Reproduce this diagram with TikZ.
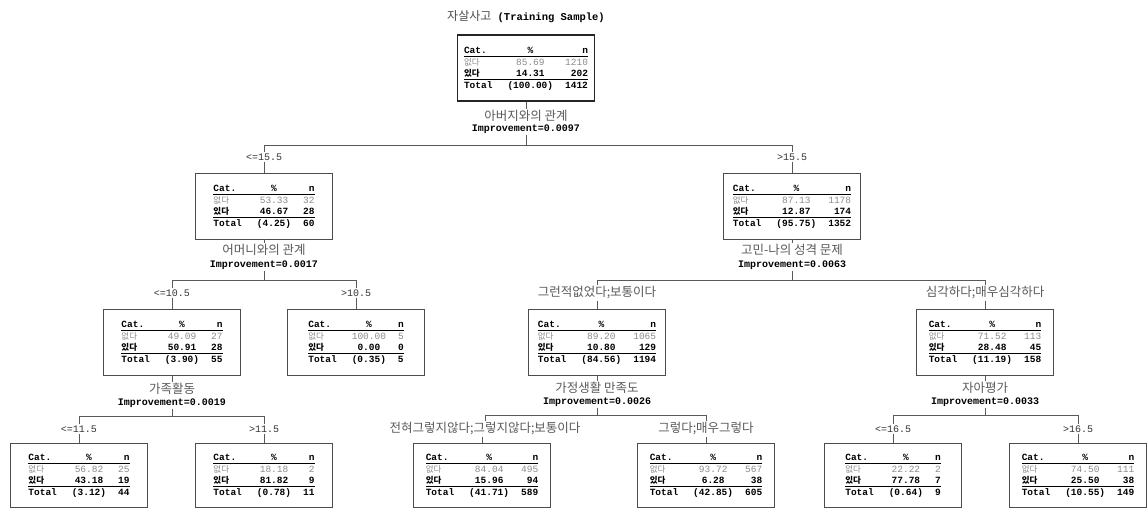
\documentclass[tikz,border=0pt]{standalone}
\usepackage{fontspec}
\setmainfont{Liberation Mono}
\newfontfamily\kor{Noto Sans CJK KR}
\usepackage{tikz}
\usetikzlibrary{calc}

\begin{document}
\begin{tikzpicture}[x=1pt,y=-1pt]
	\tikzstyle{catbox}=[draw=black!70, line width=0.8pt, minimum width=137pt, minimum height=66pt, inner sep=0pt, fill=white, font=\fontsize{9.5}{10}\selectfont]
	\tikzstyle{splitname}=[inner sep=1pt, font=\kor\fontsize{12.5}{14}\selectfont, text=black!65]
	\tikzstyle{impr}=[inner sep=1pt, font=\bfseries\fontsize{10}{11}\selectfont]
	\tikzstyle{cond}=[inner sep=1pt, font=\fontsize{10}{11}\selectfont, text=black!80]
	\tikzstyle{edge}=[draw=black!65, line width=0.7pt]

	\newcommand{\kcell}[1]{{\kor\fontsize{8.5}{10}\selectfont #1}}
	\newcommand{\rowgap}{\rule[-2.6pt]{0pt}{11pt}}
	\newcommand{\cattab}[6]{%
		\begin{tabular}{@{}l@{\hspace{15pt}}c@{\hspace{12pt}}r@{}}
			\rowgap\textbf{Cat.} & \textbf{\%} & \textbf{n}\\\hline
			\rowgap\textcolor{black!45}{\kcell{없다}} & \textcolor{black!45}{#1} & \textcolor{black!45}{#2}\\
			\rowgap\textbf{\kcell{있다}} & \textbf{#3} & \textbf{#4}\\\hline
			\rowgap\textbf{Total} & \textbf{(#5)} & \textbf{#6}
		\end{tabular}}

	\useasboundingbox (0,0) rectangle (1147,509);

	% root
	\node (title) [inner sep=1pt, font=\fontsize{10.5}{12}\selectfont] at (526,17) {{\kor\fontsize{12}{14}\selectfont\color{black!70} 자살사고} \textbf{(Training Sample)}};
	\node (root) [catbox, line width=1.6pt, draw=black!85] at (526,68) {\cattab{85.69}{1210}{14.31}{202}{100.00}{1412}};
	\node (sp0) [splitname] at (526,116) {아버지와의 관계};
	\node (imp0) [impr] at (526,129) {Improvement=0.0097};
	\coordinate (bar0) at (526,145);

	% first level
	\node (c1) [cond] at (264,157) {<=15.5};
	\node (c2) [cond] at (792,157) {>15.5};
	\node (n1) [catbox] at (264,206) {\cattab{53.33}{32}{46.67}{28}{4.25}{60}};
	\node (n2) [catbox] at (792,206) {\cattab{87.13}{1178}{12.87}{174}{95.75}{1352}};
	\node (sp1) [splitname] at (264,250) {어머니와의 관계};
	\node (imp1) [impr] at (264,265) {Improvement=0.0017};
	\node (sp2) [splitname] at (792,250) {고민-나의 성격 문제};
	\node (imp2) [impr] at (792,265) {Improvement=0.0063};
	\coordinate (bar1) at (264,280);
	\coordinate (bar2) at (792,280);

	% second level
	\node (c11) [cond] at (172,293) {<=10.5};
	\node (c12) [cond] at (356,293) {>10.5};
	\node (c21) [splitname] at (597,293) {그런적없었다;보통이다};
	\node (c22) [splitname] at (985,293) {심각하다;매우심각하다};
	\node (n11) [catbox] at (172,342) {\cattab{49.09}{27}{50.91}{28}{3.90}{55}};
	\node (n12) [catbox] at (356,342) {\cattab{100.00}{5}{0.00}{0}{0.35}{5}};
	\node (n21) [catbox] at (597,342) {\cattab{89.20}{1065}{10.80}{129}{84.56}{1194}};
	\node (n22) [catbox] at (985,342) {\cattab{71.52}{113}{28.48}{45}{11.19}{158}};
	\node (sp11) [splitname] at (172,389) {가족활동};
	\node (imp11) [impr] at (172,403) {Improvement=0.0019};
	\node (sp21) [splitname] at (597,388) {가정생활 만족도};
	\node (imp21) [impr] at (597,402) {Improvement=0.0026};
	\node (sp22) [splitname] at (985,388) {자아평가};
	\node (imp22) [impr] at (985,402) {Improvement=0.0033};
	\coordinate (bar11) at (172,416);
	\coordinate (bar21) at (597,415);
	\coordinate (bar22) at (985,415);

	% leaves
	\node (c111) [cond] at (79,429) {<=11.5};
	\node (c112) [cond] at (264,429) {>11.5};
	\node (c211) [splitname] at (485,429) {전혀그렇지않다;그렇지않다;보통이다};
	\node (c212) [splitname] at (706,429) {그렇다;매우그렇다};
	\node (c221) [cond] at (893,429) {<=16.5};
	\node (c222) [cond] at (1078,429) {>16.5};
	\node (n111) [catbox, minimum height=64pt] at (79,475) {\cattab{56.82}{25}{43.18}{19}{3.12}{44}};
	\node (n112) [catbox, minimum height=64pt] at (264,475) {\cattab{18.18}{2}{81.82}{9}{0.78}{11}};
	\node (n211) [catbox, minimum height=64pt] at (482,475) {\cattab{84.04}{495}{15.96}{94}{41.71}{589}};
	\node (n212) [catbox, minimum height=64pt] at (706,475) {\cattab{93.72}{567}{6.28}{38}{42.85}{605}};
	\node (n221) [catbox, minimum height=64pt] at (893,475) {\cattab{22.22}{2}{77.78}{7}{0.64}{9}};
	\node (n222) [catbox, minimum height=64pt] at (1078,475) {\cattab{74.50}{111}{25.50}{38}{10.55}{149}};

	% connectors
	\draw [edge] (root.south) -- (sp0.north);
	\draw [edge] (imp0.south) -- (bar0);
	\draw [edge] (c1.north) -- (c1.north |- bar0) -- (c2.north |- bar0) -- (c2.north);
	\draw [edge] (c1.south) -- (n1.north);
	\draw [edge] (c2.south) -- (n2.north);

	\draw [edge] (n1.south) -- (sp1.north);
	\draw [edge] (imp1.south) -- (bar1);
	\draw [edge] (c11.north) -- (c11.north |- bar1) -- (c12.north |- bar1) -- (c12.north);
	\draw [edge] (c11.south) -- (n11.north);
	\draw [edge] (c12.south) -- (n12.north);

	\draw [edge] (n2.south) -- (sp2.north);
	\draw [edge] (imp2.south) -- (bar2);
	\draw [edge] (c21.north) -- (c21.north |- bar2) -- (c22.north |- bar2) -- (c22.north);
	\draw [edge] (c21.south) -- (n21.north);
	\draw [edge] (c22.south) -- (n22.north);

	\draw [edge] (n11.south) -- (sp11.north);
	\draw [edge] (imp11.south) -- (bar11);
	\draw [edge] (c111.north) -- (c111.north |- bar11) -- (c112.north |- bar11) -- (c112.north);
	\draw [edge] (c111.south) -- (n111.north);
	\draw [edge] (c112.south) -- (n112.north);

	\draw [edge] (n21.south) -- (sp21.north);
	\draw [edge] (imp21.south) -- (bar21);
	\draw [edge] (c211.north) -- (c211.north |- bar21) -- (c212.north |- bar21) -- (c212.north);
	\draw [edge] (c211.south -| n211.north) -- (n211.north);
	\draw [edge] (c212.south) -- (n212.north);

	\draw [edge] (n22.south) -- (sp22.north);
	\draw [edge] (imp22.south) -- (bar22);
	\draw [edge] (c221.north) -- (c221.north |- bar22) -- (c222.north |- bar22) -- (c222.north);
	\draw [edge] (c221.south) -- (n221.north);
	\draw [edge] (c222.south) -- (n222.north);
\end{tikzpicture}
\end{document}
